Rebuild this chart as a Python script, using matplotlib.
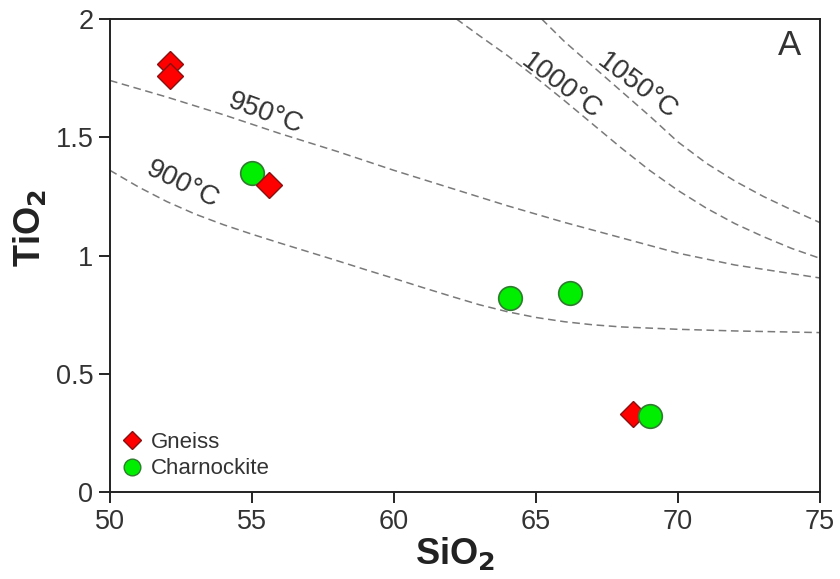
import matplotlib
matplotlib.use("Agg")
import matplotlib.pyplot as plt

plt.rcParams['font.family'] = ['Liberation Sans', 'DejaVu Sans']

# samples
gneiss_sio2 = [52.1, 52.1, 55.6, 68.4]
gneiss_tio2 = [1.81, 1.76, 1.30, 0.33]
charn_sio2 = [55.0, 64.1, 66.2, 69.0]
charn_tio2 = [1.35, 0.82, 0.84, 0.32]

# isotherms
t900_x = [50, 51, 52, 53, 54, 55, 56, 57, 58, 59, 60, 61, 62, 63, 64, 65, 66, 67, 68, 70, 72, 75]
t900_y = [1.36, 1.29, 1.228, 1.175, 1.13, 1.09, 1.052, 1.015, 0.978, 0.94, 0.903, 0.865,
          0.828, 0.792, 0.762, 0.738, 0.72, 0.707, 0.698, 0.688, 0.681, 0.674]
t950_x = [50, 52, 54, 56, 58, 60, 62, 64, 66, 68, 70, 72, 75]
t950_y = [1.74, 1.67, 1.595, 1.515, 1.44, 1.36, 1.285, 1.21, 1.14, 1.075, 1.01, 0.96, 0.905]
t1000_x = [62.2, 63, 64, 65, 66, 67, 68, 69, 70, 71, 72, 73, 74, 75]
t1000_y = [2.0, 1.93, 1.845, 1.752, 1.655, 1.555, 1.455, 1.36, 1.275, 1.2, 1.135, 1.08, 1.03, 0.988]
t1050_x = [65.2, 66, 67, 68, 69, 70, 71, 72, 73, 74, 75]
t1050_y = [2.0, 1.905, 1.80, 1.695, 1.59, 1.48, 1.39, 1.315, 1.25, 1.193, 1.139]

xticks = [50, 55, 60, 65, 70, 75]
yticks = [0, 0.5, 1, 1.5, 2]
ytick_labels = ['0', '0.5', '1', '1.5', '2']

fig = plt.figure(figsize=(8.4, 5.79), dpi=100)
ax = fig.add_axes([110/840, 1-492/579, 710/840, 473/579])

dash = dict(color='#7a7a7a', lw=1.1, ls=(0, (5, 3)), zorder=1)
ax.plot(t900_x, t900_y, **dash)
ax.plot(t950_x, t950_y, **dash)
ax.plot(t1000_x, t1000_y, **dash)
ax.plot(t1050_x, t1050_y, **dash)

lab = dict(fontsize=20, color='#333333', ha='center', va='center')
ax.text(52.57, 1.30, '900°C', rotation=-26, **lab)
ax.text(55.46, 1.60, '950°C', rotation=-20, **lab)
ax.text(65.9, 1.714, '1000°C', rotation=-37, **lab)
ax.text(68.55, 1.714, '1050°C', rotation=-37, **lab)

dkw = dict(marker='D', ms=13, mfc='#ff0000', mec='#8a1010', mew=1.0, ls='none')
ckw = dict(marker='o', ms=17, mfc='#00ee00', mec='#2e7d2e', mew=1.2, ls='none')

# draw order follows the overlaps in the picture
ax.plot(charn_sio2[:1], charn_tio2[:1], zorder=3, **ckw)
ax.plot(gneiss_sio2, gneiss_tio2, zorder=4, **dkw)
ax.plot(charn_sio2[1:], charn_tio2[1:], zorder=5, **ckw)

h1, = ax.plot([], [], marker='D', ms=9, mfc='#ff0000', mec='#8a1010', mew=1.0, ls='none')
h2, = ax.plot([], [], marker='o', ms=12, mfc='#00ee00', mec='#2e7d2e', mew=1.0, ls='none')
leg = ax.legend([h1, h2], ['Gneiss', 'Charnockite'], loc='lower left',
                bbox_to_anchor=(-0.003, -0.006), frameon=False, fontsize=16,
                handlelength=0.8, handletextpad=0.45, labelspacing=0.25,
                borderpad=0.2)
for t in leg.get_texts():
    t.set_color('#333333')

ax.text(73.94, 1.89, 'A', fontsize=25, color='#333333', ha='center', va='center')

ax.set_xlim(50, 75)
ax.set_ylim(0, 2)
ax.set_xticks(xticks)
ax.set_yticks(yticks)
ax.set_yticklabels(ytick_labels)
ax.tick_params(direction='out', length=8, width=1.2, labelsize=19.5,
               labelcolor='#333333', pad=4)
for s in ax.spines.values():
    s.set_linewidth(1.4)
    s.set_color('#222222')

fig.text(455/840, 1-553/579, 'SiO$_\\mathbf{2}$', fontsize=26, fontweight='bold',
         color='#222222', ha='center', va='center')
fig.text(30/840, 1-228/579, 'TiO$_\\mathbf{2}$', fontsize=26, fontweight='bold',
         color='#222222', ha='center', va='center', rotation=90)

fig.savefig('out.png', dpi=100)
